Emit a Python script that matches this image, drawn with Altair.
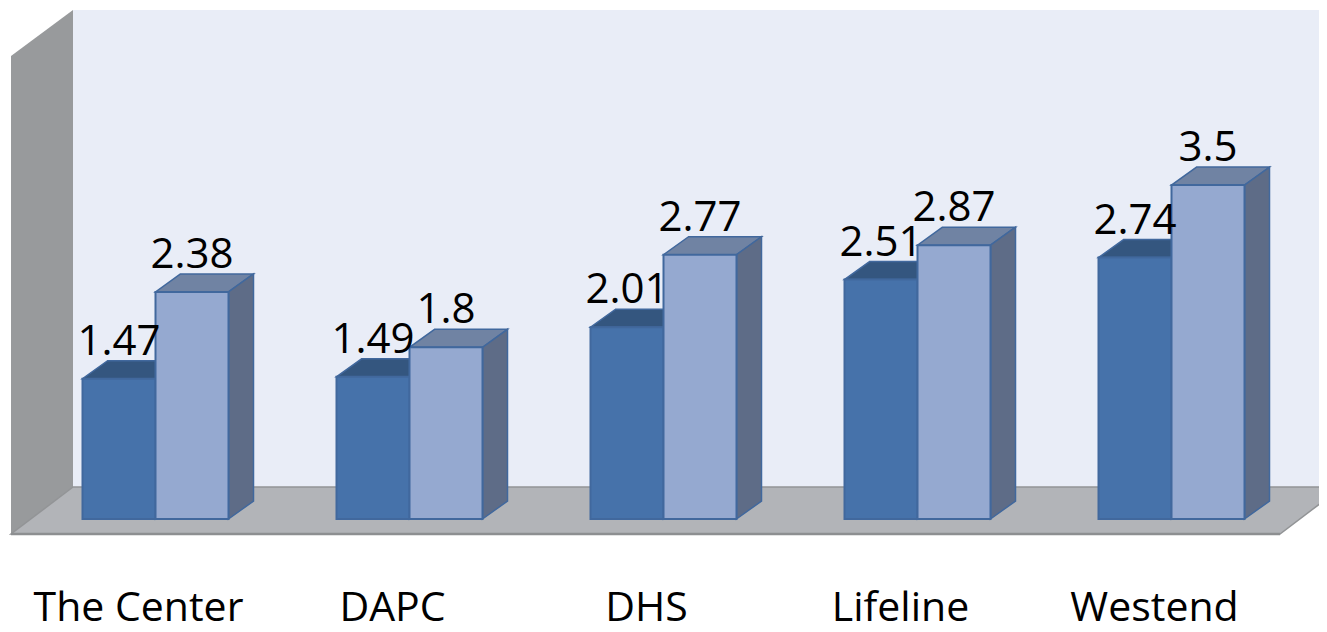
import json
import altair as alt
import pandas as pd

categories = ["The Center", "DAPC", "DHS", "Lifeline", "Westend"]
series_a = [1.47, 1.49, 2.01, 2.51, 2.74]
series_b = [2.38, 1.8, 2.77, 2.87, 3.5]

FONT = "Open Sans"
PX_PER_UNIT_X = 254.0
PX_PER_UNIT_Y = 95.4
ORIGIN_X = 138.0
ORIGIN_Y = 519.0


def ux(px):
    return (px - ORIGIN_X) / PX_PER_UNIT_X


def uy(px):
    return (ORIGIN_Y - px) / PX_PER_UNIT_Y


BAR_W = 73.0 / PX_PER_UNIT_X
DEPTH_X = 25 / PX_PER_UNIT_X
DEPTH_Y = 18 / PX_PER_UNIT_Y
BAR_START = (82.5 - ORIGIN_X) / PX_PER_UNIT_X

x_scale = alt.Scale(domain=[ux(8), ux(1319)], nice=False, zero=False)
y_scale = alt.Scale(domain=[uy(590), uy(8)], nice=False, zero=False)
X = lambda f: alt.X(f, type="quantitative", scale=x_scale, title=None)
Y = lambda f: alt.Y(f, type="quantitative", scale=y_scale, title=None, stack=None)

rows, tops, sides = [], [], []
for s, values in enumerate([series_a, series_b]):
    for i, v in enumerate(values):
        xl = i + BAR_START + s * BAR_W
        xr = xl + BAR_W
        rows.append(dict(s=s, cat=categories[i], v=v, xl=xl, xr=xr, xc=(xl + xr) / 2, y0=0.0))
        key = f"{s}-{i}"
        tops += [
            dict(s=s, key=key, y=v, xa=xl, xb=xr),
            dict(s=s, key=key, y=v + DEPTH_Y, xa=xl + DEPTH_X, xb=xr + DEPTH_X),
        ]
        sides += [
            dict(s=s, key=key, x=xr, lo=0.0, hi=v),
            dict(s=s, key=key, x=xr + DEPTH_X, lo=DEPTH_Y, hi=v + DEPTH_Y),
        ]
bars = pd.DataFrame(rows)
tops = pd.DataFrame(tops)
sides = pd.DataFrame(sides)

STROKE = "#41689D"
styles = [
    dict(front="#4672AA", top="#34567F", side="#2F4F78"),
    dict(front="#95A9D0", top="#7083A3", side="#5E6C87"),
]


def series_layers(s):
    st = styles[s]
    top = alt.Chart(tops[tops.s == s]).mark_area(
        orient="horizontal", color=st["top"], stroke=STROKE, strokeWidth=1.5, opacity=1
    ).encode(y=Y("y"), x=X("xa"), x2="xb", detail="key:N")
    side = alt.Chart(sides[sides.s == s]).mark_area(
        color=st["side"], stroke=STROKE, strokeWidth=1.5, opacity=1
    ).encode(x=X("x"), y=Y("lo"), y2="hi", detail="key:N")
    front = alt.Chart(bars[bars.s == s]).mark_bar(
        color=st["front"], stroke=STROKE, strokeWidth=2
    ).encode(x=X("xl"), x2="xr", y=Y("y0"), y2="v")
    return [top, side, front]


# Chart furniture
wall = alt.Chart(pd.DataFrame([dict(a=ux(73), b=ux(1319), lo=uy(487), hi=uy(10))])).mark_rect(
    color="#E9EDF7"
).encode(x=X("a"), x2="b", y=Y("lo"), y2="hi")

left_wall = alt.Chart(pd.DataFrame([
    dict(x=ux(11), lo=uy(534), hi=uy(56)),
    dict(x=ux(73), lo=uy(487), hi=uy(10)),
])).mark_area(color="#989A9C", opacity=1).encode(x=X("x"), y=Y("lo"), y2="hi")

floor = alt.Chart(pd.DataFrame([
    dict(y=uy(534), a=ux(11), b=ux(1280)),
    dict(y=uy(487), a=ux(73), b=ux(1342)),
])).mark_area(
    orient="horizontal", color="#B2B4B8", stroke="#929496", strokeWidth=1.5, opacity=1, clip=True
).encode(y=Y("y"), x=X("a"), x2="b")

floor_edge = alt.Chart(pd.DataFrame([dict(a=ux(11), b=ux(1280), y=uy(534))])).mark_rule(
    color="#8D8F91", strokeWidth=2.5
).encode(x=X("a"), x2="b", y=Y("y"))

value_labels = alt.Chart(bars).mark_text(
    font=FONT, fontSize=42, color="#000000", align="center", baseline="alphabetic", dy=-24
).encode(x=X("xc"), y=Y("v"), text=alt.Text("v:Q", format="~g"))

axis_layer = alt.Chart(pd.DataFrame({"t": list(range(len(categories)))})).mark_point(opacity=0).encode(
    x=alt.X(
        "t:Q",
        scale=x_scale,
        title=None,
        axis=alt.Axis(
            values=list(range(len(categories))),
            labelExpr=json.dumps(categories) + "[datum.value]",
            domain=False,
            ticks=False,
            grid=False,
            labelFont=FONT,
            labelFontSize=41,
            labelColor="#000000",
            labelPadding=-2,
            labelOverlap=False,
            labelFlush=False,
            labelBaseline="top",
            labelLimit=400,
        ),
    ),
)

layers = [wall, left_wall, floor, floor_edge] + series_layers(0) + series_layers(1) + [value_labels, axis_layer]
chart = (
    alt.layer(*layers)
    .properties(
        width=1311,
        height=582,
        background="#FFFFFF",
        padding={"left": 0, "top": 0, "right": 0, "bottom": 42},
        autosize=alt.AutoSizeParams(type="none"),
    )
    .configure_view(stroke=None)
    .configure_axisY(disable=True)
)
chart.save("out.html", embed_options={"renderer": "svg", "actions": False})
